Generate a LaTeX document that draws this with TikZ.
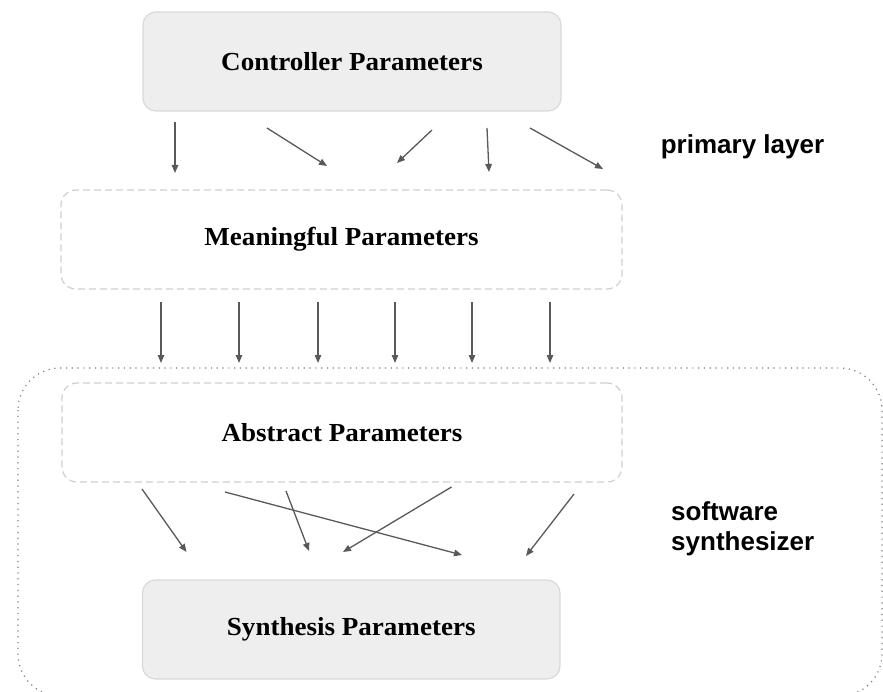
\documentclass[tikz,border=0pt]{standalone}
\usepackage{fontspec}
\setmainfont{Liberation Serif}[FakeStretch=1.04]
\newfontfamily\labelfont{Liberation Sans Bold}
\usetikzlibrary{arrows.meta}

\definecolor{boxfill}{HTML}{EEEEEE}
\definecolor{boxline}{HTML}{D9D9D9}
\definecolor{dashline}{HTML}{CFCFCF}
\definecolor{arrowgray}{HTML}{595959}
\definecolor{dotgray}{HTML}{7F7F7F}

\tikzset{
  paramtext/.style={font=\bfseries\fontsize{26}{30}\selectfont},
  solidbox/.style={paramtext, draw=boxline, fill=boxfill, line width=1.2pt,
    rounded corners=13pt, minimum height=99pt, inner sep=0pt},
  dashbox/.style={paramtext, draw=dashline, line width=1.2pt,
    dash pattern=on 7pt off 4pt, rounded corners=15pt,
    minimum height=99pt, inner sep=0pt},
  sidelabel/.style={font=\labelfont\fontsize{26}{30}\selectfont,
    inner sep=0pt},
  flow/.style={draw=arrowgray, line width=1.3pt,
    -{Triangle[length=8pt,width=6.5pt]}},
}

\begin{document}
\begin{tikzpicture}[x=1pt,y=-1pt]
\useasboundingbox (0,0) rectangle (883,692);
\clip (0,0) rectangle (883,692);

% software synthesizer region
\draw[dotgray, line width=1.2pt, dash pattern=on 1.2pt off 4.6pt,
      rounded corners=42pt] (18,368) rectangle (882,696);

% parameter layers
\node[solidbox, minimum width=418pt] (ctrl) at (352,61.5) {Controller Parameters};
\node[dashbox, minimum width=561pt] (mean) at (341.5,239.5) {Meaningful Parameters};
\node[dashbox, minimum width=560pt] (abst) at (342,432.5) {Abstract Parameters};
\node[solidbox, minimum width=417.5pt] (synth) at (351.25,629.5) {Synthesis Parameters};

% side labels
\node[sidelabel, anchor=base] (primary) at (742.5,154) {primary layer};
\node[sidelabel, anchor=base west, align=left] (soft) at (671,550) {software\\synthesizer};

% controller -> meaningful
\coordinate (c1s) at (175,122);  \coordinate (c1e) at (175,173);
\coordinate (c2s) at (267,128);  \coordinate (c2e) at (327,166);
\coordinate (c3s) at (432,130);  \coordinate (c3e) at (397,163);
\coordinate (c4s) at (487,128);  \coordinate (c4e) at (489,172);
\coordinate (c5s) at (530,128);  \coordinate (c5e) at (603,169);
\foreach \i in {1,...,5} \draw[flow] (c\i s) -- (c\i e);

% meaningful -> abstract
\foreach \x [count=\i] in {161,239,318,395,472,550} {
  \coordinate (m\i s) at (\x,302);
  \coordinate (m\i e) at (\x,363);
  \draw[flow] (m\i s) -- (m\i e);
}

% abstract -> synthesis
\coordinate (a1s) at (142,489);   \coordinate (a1e) at (186.5,552);
\coordinate (a2s) at (225,492);   \coordinate (a2e) at (462,555);
\coordinate (a3s) at (286,491);   \coordinate (a3e) at (309,551);
\coordinate (a4s) at (451.5,487); \coordinate (a4e) at (343,552);
\coordinate (a5s) at (574,494);   \coordinate (a5e) at (526,556);
\foreach \i in {1,...,5} \draw[flow] (a\i s) -- (a\i e);
\end{tikzpicture}
\end{document}
